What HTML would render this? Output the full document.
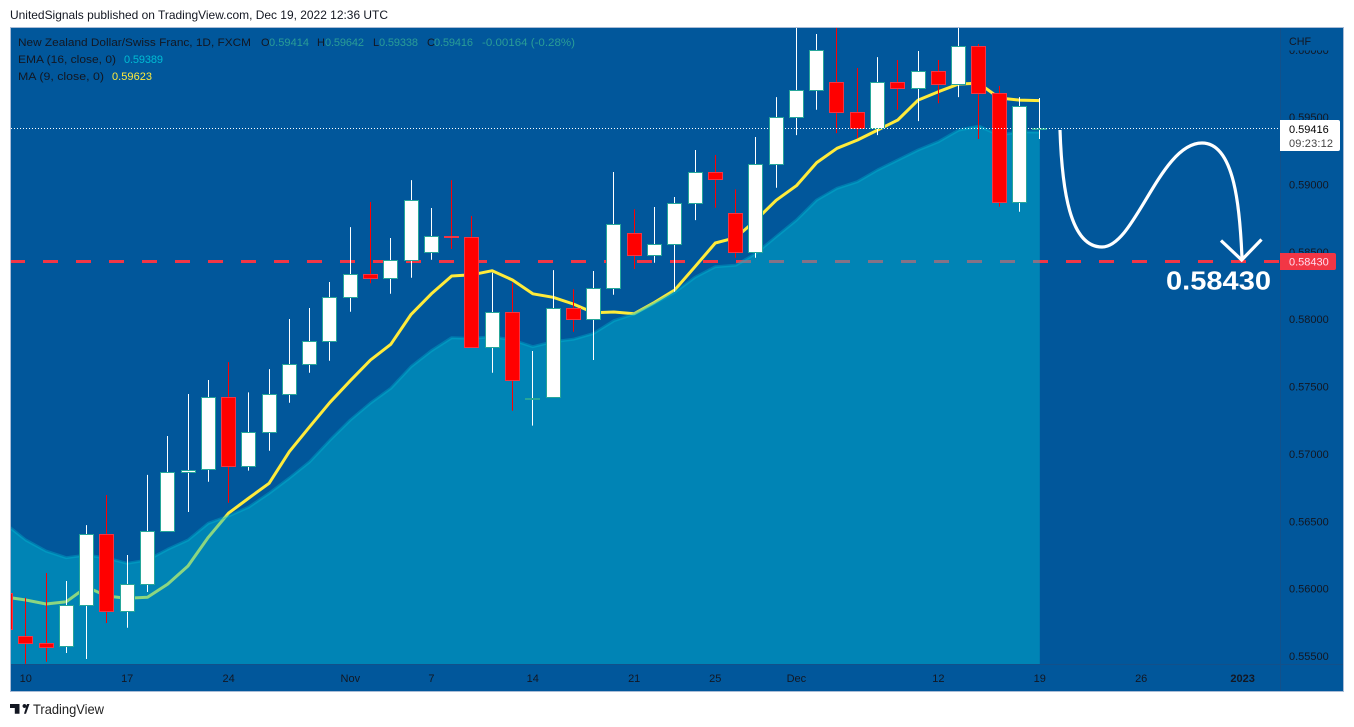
<!DOCTYPE html>
<html lang="en">
<head>
<meta charset="utf-8">
<title>NZD/CHF 1D chart</title>
<style>
html,body{margin:0;padding:0;background:#fff;width:1354px;height:727px;overflow:hidden}
svg{display:block}
text{font-family:"Liberation Sans",sans-serif;font-size:11px;fill:#131722}
</style>
</head>
<body>
<svg id="chart" xmlns="http://www.w3.org/2000/svg" width="1354" height="727" viewBox="0 0 1354 727">
  <defs><clipPath id="plot-clip"><rect x="11" y="28" width="1269" height="636"/></clipPath></defs>
  <text x="10" y="19" style="font-size:12px" textLength="378" lengthAdjust="spacingAndGlyphs">UnitedSignals published on TradingView.com, Dec 19, 2022 12:36 UTC</text>
  <rect x="10.5" y="27.5" width="1333" height="664" fill="#01579b" stroke="#a9bcd6"/>
  <g clip-path="url(#plot-clip)">
    <g id="ma-layer"></g>
    <line x1="10" x2="1280" y1="261.5" y2="261.5" stroke="#f23645" stroke-width="3" stroke-dasharray="15 18"/>
    <g id="ema-layer"></g>
    <g id="candle-layer"></g>
    <line id="last-price-line" x1="11" x2="1280" stroke="#fff" stroke-width="1" stroke-dasharray="1 2"/>
  </g>
  <line x1="1280.5" x2="1280.5" y1="28" y2="691" stroke="#12508a"/>
  <line x1="11" x2="1343" y1="664.5" y2="664.5" stroke="#12508a"/>
  <g id="price-axis"></g>
  <rect x="1281" y="28" width="62" height="22.500" fill="#01579b"/>
  <text x="1289" y="45" textLength="22" lengthAdjust="spacingAndGlyphs">CHF</text>
  <g id="time-axis"></g>

  <text x="18" y="46" textLength="233" lengthAdjust="spacingAndGlyphs">New Zealand Dollar/Swiss Franc, 1D, FXCM</text>
  <text x="261" y="46">O</text>
  <text x="269" y="46" style="fill:#2a9d96" textLength="40">0.59414</text>
  <text x="317" y="46">H</text>
  <text x="325" y="46" style="fill:#2a9d96" textLength="39">0.59642</text>
  <text x="373" y="46">L</text>
  <text x="379" y="46" style="fill:#2a9d96" textLength="39">0.59338</text>
  <text x="427" y="46">C</text>
  <text x="434" y="46" style="fill:#2a9d96" textLength="39">0.59416</text>
  <text x="482" y="46" style="fill:#2a9d96" textLength="93" lengthAdjust="spacingAndGlyphs">-0.00164 (-0.28%)</text>
  <text x="18" y="63" textLength="98" lengthAdjust="spacingAndGlyphs">EMA (16, close, 0)</text>
  <text x="124" y="63" style="fill:#00bcd4" textLength="39">0.59389</text>
  <text x="18" y="80" textLength="86" lengthAdjust="spacingAndGlyphs">MA (9, close, 0)</text>
  <text x="112" y="80" style="fill:#ffeb3b" textLength="40">0.59623</text>

  <path d="M1060 130 C1062 190,1070 247,1102 247 C1135 247,1160 143,1202 143 C1235 143,1240 210,1242 258" fill="none" stroke="#fff" stroke-width="3.2"/>
  <path d="M1221 240.5 L1241.7 260 L1261.5 239.5" fill="none" stroke="#fff" stroke-width="3.2"/>
  <text x="1166" y="289.5" style="font-size:26px;font-weight:bold;fill:#fff" textLength="105" lengthAdjust="spacingAndGlyphs">0.58430</text>

  <path d="M1280 120 H1338 a2 2 0 0 1 2 2 V149 a2 2 0 0 1 -2 2 H1280 Z" fill="#fff"/>
  <text x="1289" y="133" style="fill:#000">0.59416</text>
  <text x="1289" y="147" style="fill:#444" textLength="44">09:23:12</text>
  <path d="M1280 253 H1334 a2 2 0 0 1 2 2 V268 a2 2 0 0 1 -2 2 H1280 Z" fill="#f23645"/>
  <text x="1289" y="265.500" style="fill:#fde">0.58430</text>

  <path d="M10 704 H19.5 V713.700 H14.800 V708 H10 Z M24.500 704 a2 2 0 1 1 -.01 0 Z M24 713.700 L27 704 H29.500 L26 713.700 Z" fill="#131722"/>
  <text x="33" y="714" style="font-size:14px;fill:#222" textLength="71" lengthAdjust="spacingAndGlyphs">TradingView</text>
</svg>
<script>
const opens = [.55968,.55652,.55594,.55572,.55882,.56403,.55832,.56032,.56426,.56864,.56886,.57425,.56908,.57161,.57443,.57665,.57836,.58163,.58333,.58304,.58437,.58497,.58618,.58608,.57791,.58056,.57412,.5742,.58085,.57999,.58229,.58638,.58479,.58556,.5886,.59091,.58786,.58497,.5915,.59499,.59699,.59759,.59536,.59417,.59759,.59714,.5984,.59744,.60026,.59677,.58868,.59414];
const highs = [.56027,.55931,.56116,.56057,.56472,.56695,.5625,.56844,.57133,.57445,.57549,.57682,.57457,.5763,.58002,.58083,.58276,.58684,.5887,.58603,.59033,.58826,.59033,.58766,.58345,.58271,.57764,.58365,.58222,.58358,.59093,.58816,.58833,.58907,.59256,.59219,.58964,.59353,.59649,.60221,.60117,.60221,.59865,.59946,.59924,.59991,.59924,.60221,.60043,.59731,.59649,.59642];
const lows = [.55619,.55441,.55458,.55522,.55478,.55745,.5571,.55975,.56426,.56569,.56794,.56638,.56876,.57024,.5738,.57603,.57692,.58056,.58267,.58189,.58308,.58442,.58521,.57791,.57603,.57321,.5721,.5742,.57907,.57697,.58182,.58373,.58419,.58204,.58736,.58828,.58457,.58457,.58976,.59367,.59555,.59382,.59343,.59367,.59555,.59471,.59603,.59649,.59338,.58835,.58798,.59338];
const closes = [.557,.55593,.55569,.55882,.56403,.55832,.56032,.56426,.56866,.56883,.57425,.56908,.57161,.57443,.57665,.57836,.58163,.58333,.58304,.58437,.58883,.58615,.58607,.57791,.58056,.57547,.57416,.58085,.57999,.58229,.58704,.58479,.58556,.5886,.59091,.59039,.58497,.5915,.59499,.59699,.59996,.59536,.59417,.59759,.59714,.5984,.59744,.60026,.59677,.58868,.5958,.59416];
const maValues = [.55938,.55916,.55886,.55903,.56012,.55945,.55928,.55936,.56034,.56168,.56381,.56561,.56673,.56782,.57017,.57202,.57383,.57544,.57697,.57814,.58036,.58189,.58321,.5833,.5836,.58291,.58189,.58163,.58113,.58048,.58054,.58041,.58125,.58217,.5839,.58566,.58605,.58736,.58883,.58991,.59163,.59269,.5933,.59404,.59479,.59627,.59689,.59746,.59751,.59642,.59627,.59623];
const emaValues = [.5648,.56361,.56279,.5623,.5625,.56227,.56188,.56213,.56292,.56361,.56485,.56539,.56606,.56708,.56821,.56942,.57103,.57252,.57378,.57487,.57648,.57766,.57863,.57858,.5787,.57846,.57796,.57833,.57851,.57895,.57989,.58039,.58118,.582,.58311,.5839,.584,.58489,.58613,.58736,.58885,.58972,.59021,.59108,.59182,.59256,.59318,.59404,.59434,.59367,.59392,.59389];
const priceTicks = [.6,.595,.59,.585,.58,.575,.57,.565,.56,.555];
const timeLabels = ['10','17','24','Nov','7','14','21','25','Dec','12','19','26','2023'];
const timeBars = [1,6,11,17,21,26,31,35,39,46,51,56,61];
const lastPrice = .59416;

const NS = 'http://www.w3.org/2000/svg';
function xAt(i){ return 5.5 + i * 20.28; }
function pxAt(i){ return Math.floor(xAt(i)) + .5; }
function yAt(p){ return 656 - (p - .555) * 13471; }
function make(tag, parent){ const el = document.createElementNS(NS, tag); parent.appendChild(el); return el; }
function linePoints(values){ return values.map((v, i) => xAt(i).toFixed(1) + ',' + yAt(v).toFixed(1)).join(' '); }

const maLine = make('polyline', document.getElementById('ma-layer'));


maLine.setAttribute('points', linePoints(maValues));
maLine.setAttribute('fill', 'none');
maLine.setAttribute('stroke', '#ffeb3b');
maLine.setAttribute('stroke-width', '3');
maLine.setAttribute('stroke-linejoin', 'round');

const emaLayer = document.getElementById('ema-layer');
const emaArea = make('polygon', emaLayer);


emaArea.setAttribute('points', xAt(0).toFixed(1) + ',664 ' + linePoints(emaValues) + ' ' + xAt(emaValues.length - 1).toFixed(1) + ',664');
emaArea.setAttribute('fill', '#00bcd4');
emaArea.setAttribute('fill-opacity', '.45');
const emaLine = make('polyline', emaLayer);


emaLine.setAttribute('points', linePoints(emaValues));
emaLine.setAttribute('fill', 'none');
emaLine.setAttribute('stroke', '#00bcd4');
emaLine.setAttribute('stroke-opacity', '.35');
emaLine.setAttribute('stroke-width', '3');
emaLine.setAttribute('stroke-linejoin', 'round');

const candleLayer = document.getElementById('candle-layer');
opens.forEach(function(open, i){
  const close = closes[i];
  const up = close >= open;
  const cx = pxAt(i);
  const top = Math.round(yAt(Math.max(open, close)));
  const bottom = Math.round(yAt(Math.min(open, close)));
  const g = make('g', candleLayer);
  
  
  const wick = make('line', g);
  
  
  wick.setAttribute('x1', cx);
  wick.setAttribute('x2', cx);
  wick.setAttribute('y1', yAt(highs[i]).toFixed(1));
  wick.setAttribute('y2', yAt(lows[i]).toFixed(1));
  wick.setAttribute('stroke', up ? '#ffffff' : '#ff0000');
  const body = make('rect', g);
  
  
  body.setAttribute('x', cx - 7);
  body.setAttribute('y', top + .5);
  body.setAttribute('width', 14);
  body.setAttribute('height', Math.max(bottom - top, 1));
  body.setAttribute('fill', up ? '#ffffff' : '#ff0000');
  body.setAttribute('stroke', up ? '#26a69a' : '#f23645');
});

const lastLine = document.getElementById('last-price-line');
lastLine.setAttribute('y1', Math.floor(yAt(lastPrice)) + .5);
lastLine.setAttribute('y2', Math.floor(yAt(lastPrice)) + .5);

const priceAxis = document.getElementById('price-axis');
priceTicks.forEach(function(p){
  const t = make('text', priceAxis);
  
  
  t.setAttribute('x', 1289);
  t.setAttribute('y', (yAt(p) + 4).toFixed(1));
  t.textContent = p.toFixed(5);
});

const timeAxis = document.getElementById('time-axis');
timeLabels.forEach(function(label, i){
  const t = make('text', timeAxis);
  
  
  t.setAttribute('x', xAt(timeBars[i]).toFixed(1));
  t.setAttribute('y', 682);
  t.setAttribute('text-anchor', 'middle');
  if (label === '2023') t.style.fontWeight = 'bold';
  t.textContent = label;
});
</script>
</body>
</html>
